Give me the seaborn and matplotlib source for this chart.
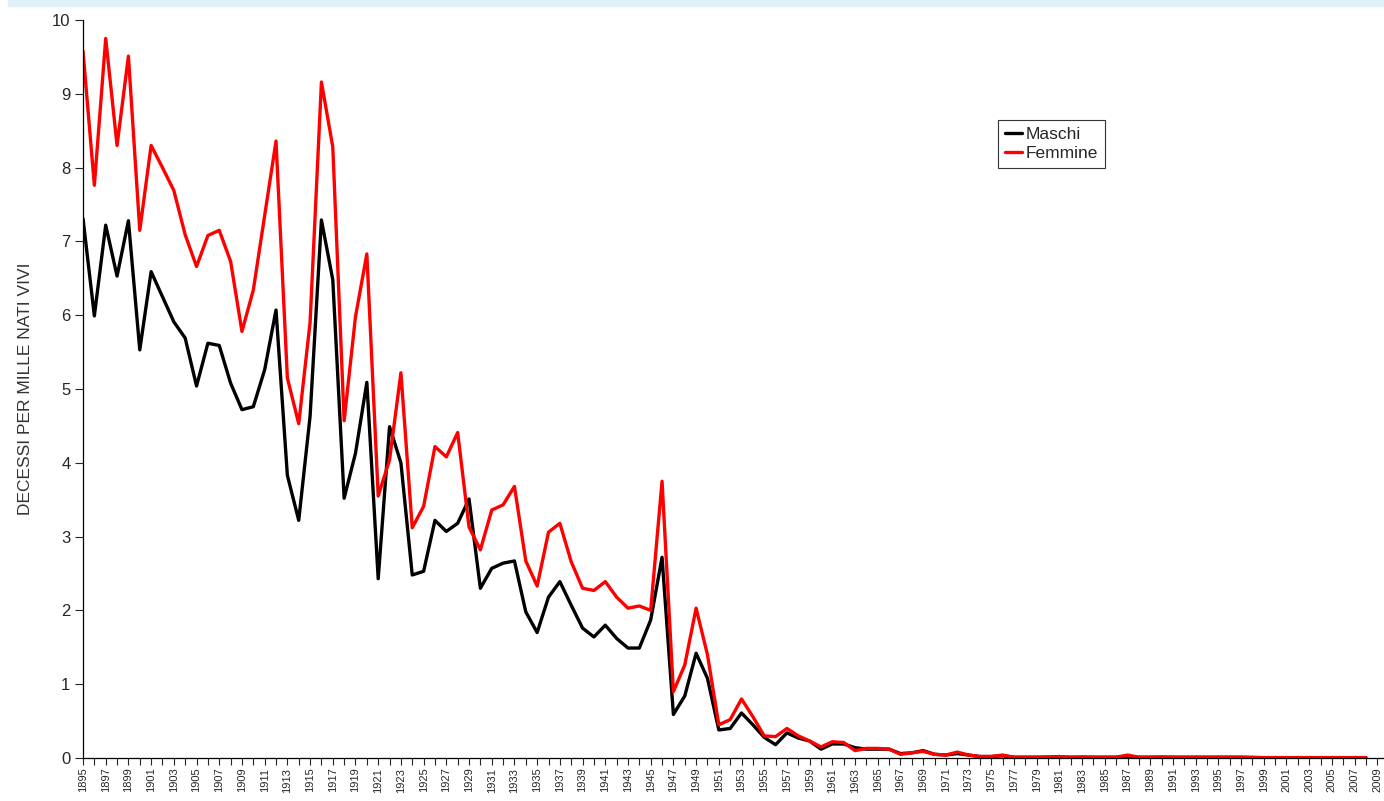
import numpy as np
import pandas as pd
import matplotlib.pyplot as plt
import seaborn as sns
from matplotlib.patches import Rectangle
from matplotlib.lines import Line2D
from matplotlib.ticker import MultipleLocator

years = list(range(1895, 2009))

maschi = [
    7.31, 5.99, 7.22, 6.53, 7.28, 5.53, 6.59, 6.25, 5.91, 5.69,
    5.04, 5.62, 5.59, 5.08, 4.72, 4.76, 5.26, 6.07, 3.83, 3.22,
    4.63, 7.29, 6.48, 3.52, 4.13, 5.09, 2.43, 4.49, 4.00, 2.48,
    2.53, 3.22, 3.07, 3.18, 3.51, 2.30, 2.57, 2.64, 2.67, 1.98,
    1.70, 2.18, 2.39, 2.07, 1.76, 1.64, 1.80, 1.62, 1.49, 1.49,
    1.87, 2.72, 0.59, 0.84, 1.42, 1.08, 0.38, 0.40, 0.61, 0.45,
    0.28, 0.18, 0.34, 0.27, 0.23, 0.12, 0.19, 0.19, 0.14, 0.12,
    0.12, 0.12, 0.06, 0.07, 0.10, 0.05, 0.04, 0.06, 0.04, 0.02,
    0.02, 0.03, 0.01, 0.01, 0.01, 0.01, 0.01, 0.01, 0.01, 0.01,
    0.01, 0.01, 0.02, 0.01, 0.01, 0.01, 0.01, 0.01, 0.01, 0.01,
    0.01, 0.01, 0.01, 0.005, 0.005, 0.005, 0.005, 0.005, 0.005, 0.005,
    0.005, 0.005, 0.005, 0.005,
]

femmine = [
    9.58, 7.76, 9.75, 8.30, 9.51, 7.15, 8.30, 8.00, 7.69, 7.09,
    6.66, 7.08, 7.15, 6.73, 5.78, 6.34, 7.35, 8.36, 5.15, 4.53,
    5.90, 9.16, 8.28, 4.57, 5.98, 6.83, 3.55, 4.04, 5.22, 3.12,
    3.41, 4.22, 4.08, 4.41, 3.13, 2.82, 3.36, 3.43, 3.68, 2.67,
    2.33, 3.06, 3.18, 2.66, 2.30, 2.27, 2.39, 2.18, 2.03, 2.06,
    2.00, 3.75, 0.90, 1.26, 2.03, 1.40, 0.45, 0.52, 0.80, 0.56,
    0.30, 0.29, 0.40, 0.30, 0.23, 0.15, 0.22, 0.21, 0.10, 0.13,
    0.13, 0.12, 0.05, 0.07, 0.09, 0.05, 0.04, 0.08, 0.04, 0.02,
    0.02, 0.04, 0.01, 0.01, 0.01, 0.015, 0.02, 0.01, 0.015, 0.01,
    0.01, 0.01, 0.04, 0.01, 0.01, 0.015, 0.01, 0.01, 0.01, 0.01,
    0.01, 0.01, 0.01, 0.01, 0.005, 0.005, 0.005, 0.005, 0.005, 0.005,
    0.005, 0.005, 0.005, 0.005,
]

df = pd.DataFrame({
    "anno": years * 2,
    "valore": maschi + femmine,
    "sesso": ["Maschi"] * len(years) + ["Femmine"] * len(years),
})

sns.set_style("ticks")
plt.rcParams["font.family"] = ["Liberation Sans", "DejaVu Sans"]

fig = plt.figure(figsize=(13.84, 8.01), dpi=100)
ax = fig.add_axes([83 / 1384, 1 - 758 / 801, (1383 - 83) / 1384, (758 - 20) / 801])

# light blue strip along the top edge
fig.patches.append(Rectangle((8 / 1384, 1 - 6 / 801), 1, 6 / 801,
                             transform=fig.transFigure, color="#dff0f8", zorder=0))

sns.lineplot(data=df, x="anno", y="valore", hue="sesso",
             palette={"Maschi": "black", "Femmine": "#ff0000"},
             linewidth=2.4, ax=ax, legend=False)

ax.set_xlim(1895, 2009.5)
ax.set_ylim(0, 10)
ax.xaxis.set_minor_locator(MultipleLocator(1))
ax.set_xticks(range(1895, 2010, 2))
ax.set_xticklabels([str(y) for y in range(1895, 2010, 2)], rotation=90, fontsize=8)
ax.set_yticks(range(0, 11))
ax.tick_params(axis="y", labelsize=12, length=6, width=0.8, pad=3)
ax.tick_params(axis="x", which="both", length=5, width=0.8, pad=2)

sns.despine(ax=ax)
for s in ["left", "bottom"]:
    ax.spines[s].set_linewidth(0.9)
    ax.spines[s].set_color("black")

ax.set_xlabel("")
ax.set_ylabel("DECESSI PER MILLE NATI VIVI", fontsize=12.5, color="#333333", labelpad=14)

handles = [Line2D([], [], color="black", lw=2.4), Line2D([], [], color="#ff0000", lw=2.4)]
leg = ax.legend(handles, ["Maschi", "Femmine"], loc="upper left",
                bbox_to_anchor=((998 - 83) / 1300, 1 - (120 - 20) / 738),
                borderaxespad=0, fontsize=12.5, handlelength=1.0, handletextpad=0.2,
                borderpad=0.4, labelspacing=0.2, fancybox=False, framealpha=1)
leg.get_frame().set_edgecolor("#333333")
leg.get_frame().set_linewidth(0.8)

fig.savefig("out.png", dpi=100)
